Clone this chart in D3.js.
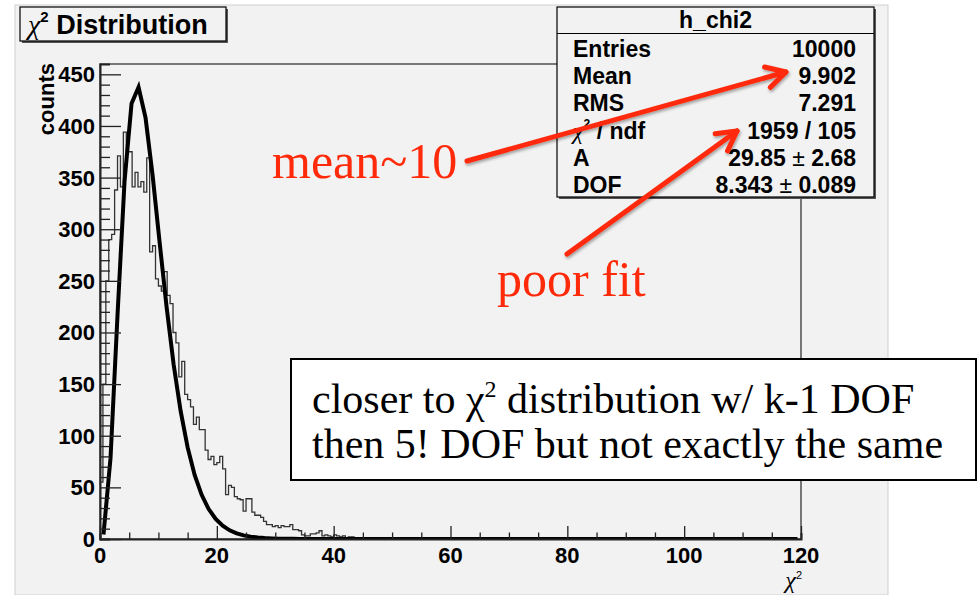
<!DOCTYPE html>
<html>
<head>
<meta charset="utf-8">
<script src="https://cdn.jsdelivr.net/npm/d3@7"></script>
<style>
  body { margin: 0; background: #fff; }
  svg { display: block; }
</style>
</head>
<body>
<div id="chart"></div>
<script>
// h_chi2 : 0.5 wide bins starting at 0, counts
var binStart = 0;
var binWidth = 0.5;
var counts = [
    55, 150, 250, 290, 295, 338, 371, 341, 394, 375,
    375, 341, 355, 341, 346, 336, 369, 278, 284, 252,
    245, 240, 259, 236, 228, 200, 190, 157, 172, 140,
    135, 128, 111, 118, 106, 106, 86, 77, 80, 72,
    74, 80, 68, 43, 52, 50, 41, 39, 38, 27,
    39, 39, 26, 23, 23, 21, 17, 14, 14, 12,
    13, 11, 13, 12, 12, 14, 9, 9, 8, 4,
    3, 3, 5, 5, 6, 8, 3, 4, 3, 2,
    4, 3, 2, 3, 1, 2, 2, 1, 1, 0,
    1, 1, 0, 1, 0, 0, 1
];

// fitted function as ROOT draws it (points every 1.2 from 0.6)
var fitStart = 0.6;
var fitStep = 1.2;
var fitValues = [
    4.4, 78.3, 217.1, 346.4, 421.8, 437.5, 407.8, 352.4, 287.6, 224.6,
    169.3, 124.0, 88.7, 62.1, 42.8, 29.0, 19.4, 12.8, 8.4, 5.5,
    3.5, 2.2, 1.4, 0.9, 0.6, 0.35, 0.22, 0.13, 0.08, 0.05,
    0.03, 0.02, 0.01, 0, 0, 0, 0, 0, 0, 0,
    0, 0, 0, 0, 0, 0, 0, 0, 0, 0,
    0, 0, 0, 0, 0, 0, 0, 0, 0, 0,
    0, 0, 0, 0, 0, 0, 0, 0, 0, 0,
    0, 0, 0, 0, 0, 0, 0, 0, 0, 0,
    0, 0, 0, 0, 0, 0, 0, 0, 0, 0,
    0, 0, 0, 0, 0, 0, 0, 0, 0, 0
];

var xTicks = [0, 20, 40, 60, 80, 100, 120];
var yTicks = [0, 50, 100, 150, 200, 250, 300, 350, 400, 450];

var statLabels = ["Entries", "Mean", "RMS", "χ2 / ndf", "A", "DOF"];
var statValues = ["10000", "9.902", "7.291", "1959 / 105", "29.85 ± 2.68", "8.343 ± 0.089"];

var width = 979, height = 595;
var frame = { left: 100, right: 801, top: 64, bottom: 539 };
var gray = "#f2f2f2";
var red = "#ff2a0a";
var sans = "'Liberation Sans', Arial, sans-serif";
var serif = "'Liberation Serif', 'Times New Roman', serif";

var svg = d3.select("#chart").append("svg")
    .attr("width", width)
    .attr("height", height);

var defs = svg.append("defs");
defs.append("clipPath").attr("id", "plotclip")
    .append("rect")
    .attr("x", frame.left).attr("y", frame.top)
    .attr("width", frame.right - frame.left)
    .attr("height", frame.bottom - frame.top);
defs.append("filter").attr("id", "shadow")
    .attr("x", "-20%").attr("y", "-20%").attr("width", "140%").attr("height", "140%")
    .append("feDropShadow")
    .attr("dx", 1).attr("dy", 2).attr("stdDeviation", 1.5)
    .attr("flood-color", "#000").attr("flood-opacity", 0.35);

// canvas
svg.append("rect")
    .attr("x", 15).attr("y", 5)
    .attr("width", 873).attr("height", 590)
    .attr("fill", gray)
    .attr("stroke", "#d0d0d0");

var x = d3.scaleLinear().domain([0, 120]).range([frame.left, frame.right]);
var y = d3.scaleLinear().domain([0, 460]).range([frame.bottom, frame.top]);

// frame
svg.append("rect")
    .attr("x", frame.left).attr("y", frame.top)
    .attr("width", frame.right - frame.left)
    .attr("height", frame.bottom - frame.top)
    .attr("fill", gray)
    .attr("stroke", "#444")
    .attr("stroke-width", 1.4);

// histogram outline
var hist = d3.path();
hist.moveTo(x(binStart), y(0));
counts.forEach(function (c, i) {
    var x0 = binStart + i * binWidth;
    hist.lineTo(x(x0), y(c));
    hist.lineTo(x(x0 + binWidth), y(c));
});
hist.lineTo(x(binStart + counts.length * binWidth), y(0));

svg.append("path")
    .attr("d", hist.toString())
    .attr("fill", "none")
    .attr("stroke", "#333")
    .attr("stroke-width", 1.3)
    .attr("clip-path", "url(#plotclip)");

// fit curve
var fitLine = d3.line()
    .x(function (d, i) { return x(fitStart + i * fitStep); })
    .y(function (d) { return y(d); });

svg.append("path")
    .datum(fitValues)
    .attr("d", fitLine)
    .attr("fill", "none")
    .attr("stroke", "#000")
    .attr("stroke-width", 4)
    .attr("stroke-linejoin", "miter")
    .attr("clip-path", "url(#plotclip)");

// y axis
var yAxis = d3.axisRight(y)
    .tickValues(d3.range(0, 460, 10))
    .tickSize(10)
    .tickFormat("");
var ya = svg.append("g")
    .attr("transform", "translate(" + frame.left + ",0)")
    .call(yAxis);
ya.selectAll(".tick line")
    .attr("x2", function (d) { return d % 50 === 0 ? 21 : 10; })
    .attr("stroke", "#222").attr("stroke-width", 1.3);
ya.select(".domain").attr("stroke", "#222").attr("stroke-width", 2);

svg.append("g").selectAll("text")
    .data(yTicks)
    .enter().append("text")
    .attr("x", frame.left - 5)
    .attr("y", function (d) { return y(d) + 8; })
    .attr("text-anchor", "end")
    .attr("font-family", sans)
    .attr("font-weight", "bold")
    .attr("font-size", 22)
    .text(function (d) { return d; });

// x axis
var xAxis = d3.axisTop(x)
    .tickValues(d3.range(0, 121, 5))
    .tickSize(6)
    .tickFormat("");
var xa = svg.append("g")
    .attr("transform", "translate(0," + frame.bottom + ")")
    .call(xAxis);
xa.selectAll(".tick line")
    .attr("y2", function (d) { return d % 20 === 0 ? -13 : -6.5; })
    .attr("stroke", "#222").attr("stroke-width", 1.3);
xa.select(".domain").attr("stroke", "#222").attr("stroke-width", 2);

svg.append("g").selectAll("text")
    .data(xTicks)
    .enter().append("text")
    .attr("x", function (d) { return x(d); })
    .attr("y", 563)
    .attr("text-anchor", "middle")
    .attr("font-family", sans)
    .attr("font-weight", "bold")
    .attr("font-size", 22)
    .text(function (d) { return d; });

// axis titles
svg.append("text")
    .attr("transform", "translate(54," + (frame.top - 1) + ") rotate(-90)")
    .attr("text-anchor", "end")
    .attr("font-family", sans)
    .attr("font-weight", "bold")
    .attr("font-size", 22)
    .text("counts");

var xt = svg.append("text")
    .attr("x", frame.right + 1)
    .attr("y", 588)
    .attr("text-anchor", "end");
xt.append("tspan").attr("font-family", serif).attr("font-style", "italic")
    .attr("font-size", 24).text("χ");
xt.append("tspan").attr("font-family", sans).attr("font-size", 11)
    .attr("dy", -9).text("2");

// title box
function shadowBox(bx, by, bw, bh) {
    svg.append("rect")
        .attr("x", bx + 2).attr("y", by + 2)
        .attr("width", bw).attr("height", bh)
        .attr("fill", "#555");
    svg.append("rect")
        .attr("x", bx).attr("y", by)
        .attr("width", bw).attr("height", bh)
        .attr("fill", gray)
        .attr("stroke", "#000")
        .attr("stroke-width", 1.2);
}

shadowBox(20, 7, 206, 34);
var tt = svg.append("text").attr("x", 28).attr("y", 34)
    .attr("font-family", sans).attr("font-weight", "bold").attr("font-size", 27);
tt.append("tspan").attr("font-family", serif).attr("font-style", "italic")
    .attr("font-weight", "normal").attr("font-size", 28).text("χ");
tt.append("tspan").attr("font-size", 15).attr("dy", -12).text("2");
tt.append("tspan").attr("dy", 12).text(" Distribution");

// stats box
var sb = { x: 557, y: 7, w: 317, h: 190 };
shadowBox(sb.x, sb.y, sb.w, sb.h);
svg.append("line")
    .attr("x1", sb.x).attr("x2", sb.x + sb.w)
    .attr("y1", 33.5).attr("y2", 33.5)
    .attr("stroke", "#000").attr("stroke-width", 1.2);
svg.append("text")
    .attr("x", sb.x + sb.w / 2).attr("y", 28)
    .attr("text-anchor", "middle")
    .attr("font-family", sans).attr("font-weight", "bold").attr("font-size", 23)
    .text("h_chi2");

var rowY = d3.scaleLinear().domain([0, statLabels.length - 1]).range([57, 193]);

statLabels.forEach(function (lab, i) {
    var t = svg.append("text")
        .attr("x", 573).attr("y", rowY(i))
        .attr("font-family", sans).attr("font-weight", "bold").attr("font-size", 23);
    if (lab.charAt(0) === "χ") {
        t.append("tspan").attr("font-family", serif).attr("font-style", "italic")
            .attr("font-weight", "normal").attr("font-size", 24).text("χ");
        t.append("tspan").attr("font-size", 12).attr("dy", -11).text(lab.charAt(1));
        t.append("tspan").attr("dy", 11).text(lab.slice(2));
    } else {
        t.text(lab);
    }
    var v = svg.append("text")
        .attr("x", 856).attr("y", rowY(i))
        .attr("text-anchor", "end")
        .attr("font-family", sans).attr("font-weight", "bold").attr("font-size", 23);
    var parts = statValues[i].split(" ± ");
    v.append("tspan").text(parts[0]);
    if (parts.length > 1) {
        v.append("tspan").attr("font-weight", "normal").text(" ± ");
        v.append("tspan").text(parts[1]);
    }
});

// annotations
function arrow(x1, y1, x2, y2) {
    var g = svg.append("g").attr("filter", "url(#shadow)");
    var a = Math.atan2(y2 - y1, x2 - x1);
    var hl = 22, hw = 0.5;
    g.append("line")
        .attr("x1", x1).attr("y1", y1).attr("x2", x2).attr("y2", y2)
        .attr("stroke", red).attr("stroke-width", 5).attr("stroke-linecap", "round");
    g.append("path")
        .attr("d", "M" + (x2 - hl * Math.cos(a - hw)) + "," + (y2 - hl * Math.sin(a - hw)) +
            "L" + x2 + "," + y2 +
            "L" + (x2 - hl * Math.cos(a + hw)) + "," + (y2 - hl * Math.sin(a + hw)))
        .attr("fill", "none")
        .attr("stroke", red).attr("stroke-width", 5)
        .attr("stroke-linecap", "round").attr("stroke-linejoin", "round");
}

svg.append("text")
    .attr("x", 272).attr("y", 178)
    .attr("font-family", serif).attr("font-size", 50)
    .attr("fill", red)
    .text("mean~10");
arrow(467, 161, 786, 72);

svg.append("text")
    .attr("x", 497).attr("y", 296)
    .attr("font-family", serif).attr("font-size", 50)
    .attr("fill", red)
    .text("poor fit");
arrow(567, 254, 737, 131);

// comment box
svg.append("rect")
    .attr("x", 291).attr("y", 359)
    .attr("width", 685).attr("height", 121)
    .attr("fill", "#fff")
    .attr("stroke", "#000").attr("stroke-width", 2);

var l1 = svg.append("text")
    .attr("x", 312).attr("y", 413)
    .attr("font-family", serif).attr("font-size", 42);
l1.append("tspan").text("closer to χ");
l1.append("tspan").attr("font-size", 24).attr("dy", -16).text("2");
l1.append("tspan").attr("dy", 16).text(" distribution w/ k-1 DOF");

svg.append("text")
    .attr("x", 312).attr("y", 458)
    .attr("font-family", serif).attr("font-size", 42)
    .text("then 5! DOF but not exactly the same");
</script>
</body>
</html>
